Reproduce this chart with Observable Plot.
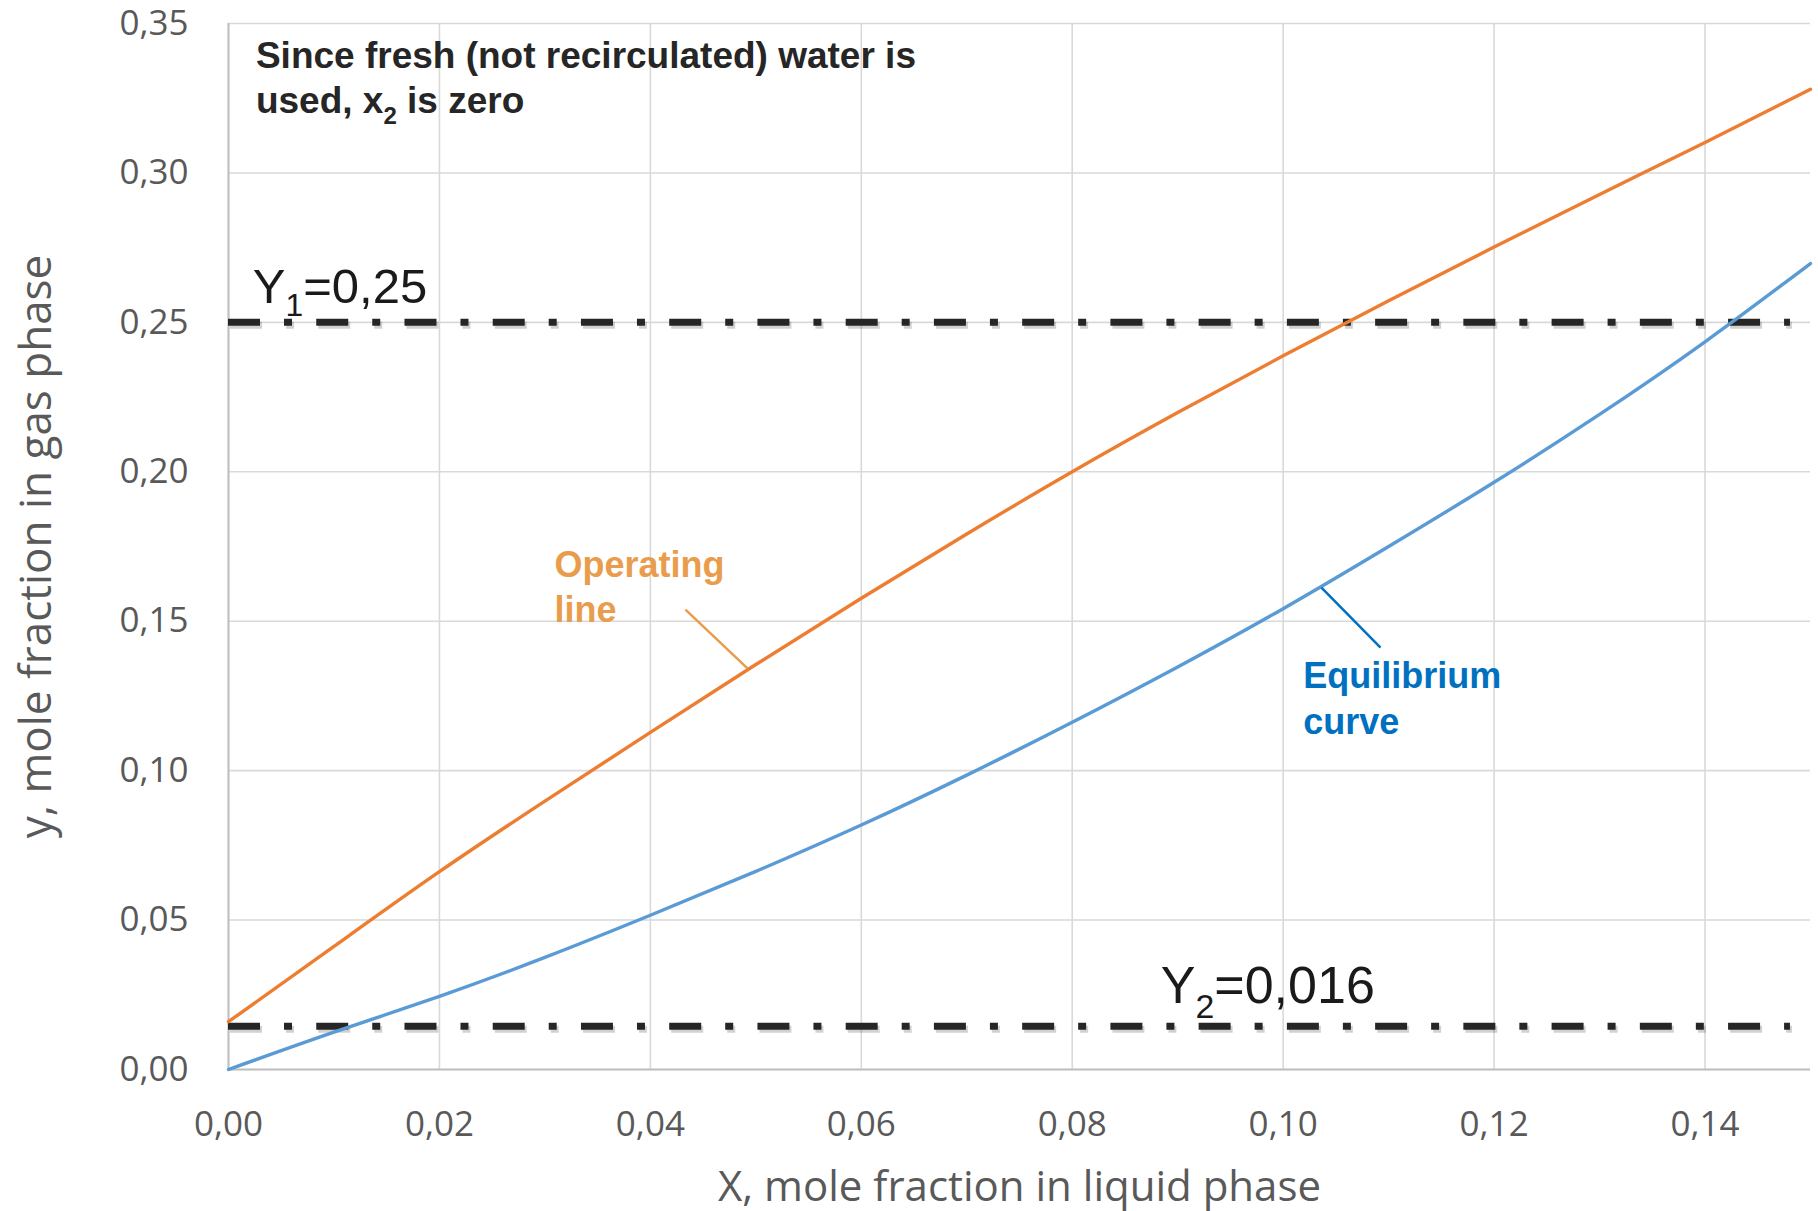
<!DOCTYPE html>
<html>
<head>
<meta charset="utf-8">
<script src="https://cdn.jsdelivr.net/npm/d3@7"></script>
<script src="https://cdn.jsdelivr.net/npm/@observablehq/plot@0.6"></script>
<style>
  html, body { margin: 0; padding: 0; background: #ffffff; }
  #chart svg { display: block; }
</style>
</head>
<body>
<div id="chart"></div>
<script>
// ---- data ----
const xValues = [0, 0.01, 0.02, 0.03, 0.04, 0.05, 0.06, 0.07, 0.08, 0.09, 0.10, 0.11, 0.12, 0.13, 0.14, 0.15];
const operatingLine = [0.016, 0.0412, 0.0662, 0.0898, 0.1128, 0.1355, 0.1577, 0.1792, 0.2000, 0.2198, 0.2388, 0.2572, 0.2752, 0.2928, 0.3102, 0.3280];
const equilibriumCurve = [0, 0.0125, 0.0245, 0.0375, 0.0516, 0.0663, 0.0818, 0.0985, 0.1162, 0.1347, 0.1542, 0.1750, 0.1965, 0.2192, 0.2435, 0.2697];
const xTicks = [0, 0.02, 0.04, 0.06, 0.08, 0.10, 0.12, 0.14];
const yTicks = [0, 0.05, 0.10, 0.15, 0.20, 0.25, 0.30, 0.35];
const limitValues = [0.25, 0.0145];   // Y1 and Y2 dash-dot lines as drawn
const limitEnd = 0.1481;
const xTitle = "X, mole fraction in liquid phase";
const yTitle = "y, mole fraction in gas phase";

const noteText = ["Since fresh (not recirculated) water is\nused, x_2 is zero"];
const noteX = [0.0026], noteY = [0.3199];
const limitLabels = ["Y_1=0,25", "Y_2=0,016"];
const limitLabelX = [0.0023, 0.0884], limitLabelY = [0.2566, 0.0221];
const limitLabelSize = [49, 52];
const seriesLabels = ["Operating\nline", "Equilibrium\ncurve"];
const seriesLabelX = [0.0309, 0.1019], seriesLabelY = [0.1496, 0.1124];
const leaderX1 = [0.04333, 0.10363], leaderY1 = [0.1539, 0.16128];
const leaderX2 = [0.04921, 0.10923], leaderY2 = [0.1342, 0.1412];

// ---- tables ----
const opData = xValues.map((x, i) => ({x, y: operatingLine[i]}));
const eqData = xValues.map((x, i) => ({x, y: equilibriumCurve[i]}));
const fmt = d => d.toFixed(2).replace(".", ",");

const orange = "#ED7D31", blue = "#5B9BD5";
const orangeText = "#E99D4C", blueText = "#0070C0";
const bold = "'Liberation Sans', Arial, sans-serif";

const chart = Plot.plot({
  width: 1818,
  height: 1211,
  marginLeft: 228,
  marginRight: 8,
  marginTop: 23,
  marginBottom: 142,
  style: {fontFamily: "'Open Sans', sans-serif", background: "#ffffff", overflow: "visible"},
  x: {domain: [0, 0.15], label: null},
  y: {domain: [0, 0.35], label: null},
  marks: [
    Plot.gridX(xTicks, {stroke: "#d9d9d9", strokeOpacity: 1, strokeWidth: 1.6}),
    Plot.gridY(yTicks, {stroke: "#d9d9d9", strokeOpacity: 1, strokeWidth: 1.6}),
    Plot.ruleX([0], {stroke: "#bfbfbf", strokeWidth: 2}),
    Plot.ruleY([0], {stroke: "#bfbfbf", strokeWidth: 2.2}),
    Plot.axisX({ticks: xTicks, tickFormat: fmt, tickSize: 0, tickPadding: 42, fontSize: 35, fill: "#595959", label: null}),
    Plot.axisY({ticks: yTicks, tickFormat: fmt, tickSize: 0, tickPadding: 40, fontSize: 35, fill: "#595959", label: null}),
    Plot.text([xTitle], {frameAnchor: "bottom", textAnchor: "middle", lineAnchor: "bottom", dy: 131, fontSize: 42, fill: "#595959"}),
    Plot.text([yTitle], {frameAnchor: "left", textAnchor: "middle", lineAnchor: "middle", rotate: -90, dx: -192, fontSize: 44, fill: "#595959"}),
    // dash-dot limit lines (shadow + line)
    Plot.ruleY(limitValues, {x1: 0, x2: limitEnd, stroke: "#000", strokeOpacity: 0.18, strokeWidth: 7, dy: 3, dx: 2, strokeDasharray: "32,24,8,24.24"}),
    Plot.ruleY(limitValues, {x1: 0, x2: limitEnd, stroke: "#262626", strokeWidth: 7, strokeDasharray: "32,24,8,24.24"}),
    // curves
    Plot.line(opData, {x: "x", y: "y", stroke: orange, strokeWidth: 3.4, curve: "natural"}),
    Plot.line(eqData, {x: "x", y: "y", stroke: blue, strokeWidth: 3.4, curve: "natural"}),
    // leaders
    Plot.link([0, 1], {x1: i => leaderX1[i], y1: i => leaderY1[i], x2: i => leaderX2[i], y2: i => leaderY2[i],
      stroke: i => [orangeText, blueText][i], strokeWidth: 2.5}),
    // annotations
    Plot.text(noteText, {x: noteX, y: noteY, text: d => d, textAnchor: "start", lineAnchor: "bottom", lineHeight: 1.22,
      fontSize: 37, fontWeight: "bold", fontFamily: bold, fill: "#262626"}),
    Plot.text([limitLabels[0]], {x: [limitLabelX[0]], y: [limitLabelY[0]], text: d => d, textAnchor: "start", lineAnchor: "bottom",
      fontSize: limitLabelSize[0], fontFamily: bold, fill: "#1a1a1a"}),
    Plot.text([limitLabels[1]], {x: [limitLabelX[1]], y: [limitLabelY[1]], text: d => d, textAnchor: "start", lineAnchor: "bottom",
      fontSize: limitLabelSize[1], fontFamily: bold, fill: "#1a1a1a"}),
    Plot.text(seriesLabels, {x: seriesLabelX, y: seriesLabelY, text: d => d, textAnchor: "start", lineAnchor: "bottom", lineHeight: 1.26,
      fontSize: 36, fontWeight: "bold", fontFamily: bold, fill: (d, i) => [orangeText, blueText][i]})
  ]
});

// subscripts: "A_2B" -> A, lowered small 2, B as tspans
const ns = "http://www.w3.org/2000/svg";
chart.querySelectorAll("text, tspan").forEach(node => {
  if (node.children.length) return;
  const m = (node.textContent || "").match(/^(.*?)_(\d)(.*)$/);
  if (!m) return;
  node.textContent = "";
  const a = document.createElementNS(ns, "tspan"); a.textContent = m[1];
  const s = document.createElementNS(ns, "tspan");
  s.setAttribute("font-size", "65%"); s.setAttribute("dy", "0.43em"); s.textContent = m[2];
  const b = document.createElementNS(ns, "tspan");
  b.setAttribute("dy", "-0.28em"); b.textContent = m[3];
  node.append(a, s, b);
});

document.getElementById("chart").appendChild(chart);
</script>
</body>
</html>
